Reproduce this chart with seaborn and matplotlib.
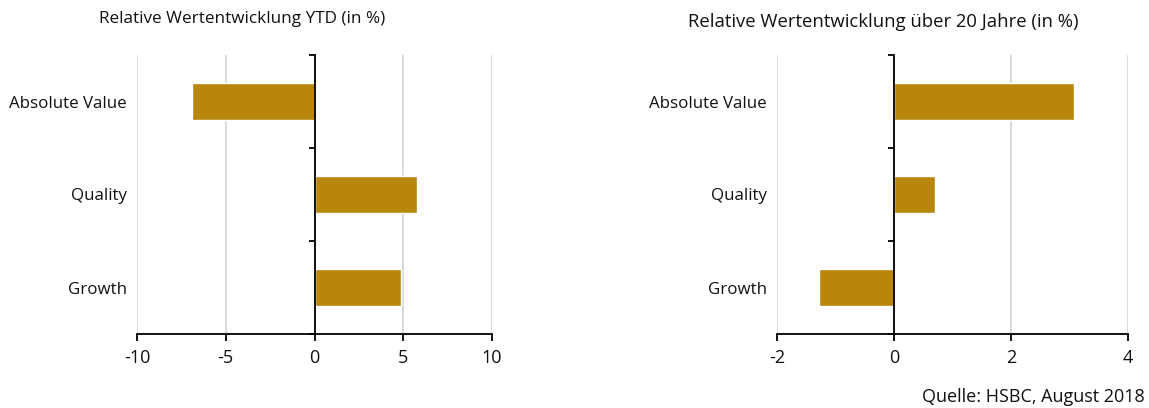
import matplotlib
matplotlib.use('Agg')
import matplotlib.pyplot as plt
import seaborn as sns
import pandas as pd
from matplotlib.ticker import FixedLocator

categories = ['Absolute Value', 'Quality', 'Growth']
ytd_values = [-6.9, 5.8, 4.85]
y20_values = [3.08, 0.70, -1.28]
ytd_ticks = [-10, -5, 0, 5, 10]
y20_ticks = [-2, 0, 2, 4]
title_ytd = 'Relative Wertentwicklung YTD (in %)'
title_20 = 'Relative Wertentwicklung über 20 Jahre (in %)'
source = 'Quelle: HSBC, August 2018'

sns.set_style('white')
plt.rcParams['font.family'] = ['Open Sans', 'DejaVu Sans']

W, H = 1149, 408
fig = plt.figure(figsize=(W / 100, H / 100), dpi=100)
ax1 = fig.add_axes([137 / W, 1 - 334 / H, 355 / W, 279 / H])
ax2 = fig.add_axes([777 / W, 1 - 334 / H, 351 / W, 279 / H])

BAR = '#B8860B'


def draw(ax, vals, ticks):
    df = pd.DataFrame({'cat': categories, 'val': vals})
    sns.barplot(data=df, x='val', y='cat', color=BAR, saturation=1,
                width=0.4, ax=ax, zorder=2)
    ax.set_xlim(ticks[0], ticks[-1])
    ax.set_ylim(2.5, -0.5)
    ax.set_xticks(ticks)
    ax.set_xticklabels([str(t) for t in ticks])
    ax.set_xlabel('')
    ax.set_ylabel('')
    ax.grid(axis='x', color='#d4d4d4', lw=1.2)
    ax.grid(axis='y', visible=False)
    ax.set_axisbelow(True)
    for s in ['top', 'left']:
        ax.spines[s].set_visible(False)
    ax.spines['right'].set_position(('data', 0))
    ax.spines['right'].set_color('black')
    ax.spines['right'].set_linewidth(1.3)
    ax.spines['right'].set_zorder(3)
    ax.spines['bottom'].set_color('black')
    ax.spines['bottom'].set_linewidth(1.3)
    ax.yaxis.set_minor_locator(FixedLocator([-0.5, 0.5, 1.5, 2.5]))
    ax.tick_params(axis='y', which='major', left=False, right=False,
                   labelleft=True, labelright=False, pad=4, labelsize=12.2,
                   labelcolor='#111111')
    ax.tick_params(axis='y', which='minor', left=False, right=True,
                   direction='in', length=4, width=1.3, color='black')
    ax.tick_params(axis='x', bottom=True, direction='out', length=5,
                   width=1.3, labelsize=13, color='black', pad=6,
                   labelcolor='#111111')


draw(ax1, ytd_values, ytd_ticks)
draw(ax2, y20_values, y20_ticks)

fig.text(242 / W, 1 - 19 / H, title_ytd, ha='center', va='center',
         fontsize=12.3, color='#111111')
fig.text(883 / W, 1 - 22 / H, title_20, ha='center', va='center',
         fontsize=13.3, color='#111111')
fig.text(1145 / W, 1 - 397 / H, source, ha='right', va='center',
         fontsize=13, color='#111111')

fig.savefig('out.png', dpi=100)
